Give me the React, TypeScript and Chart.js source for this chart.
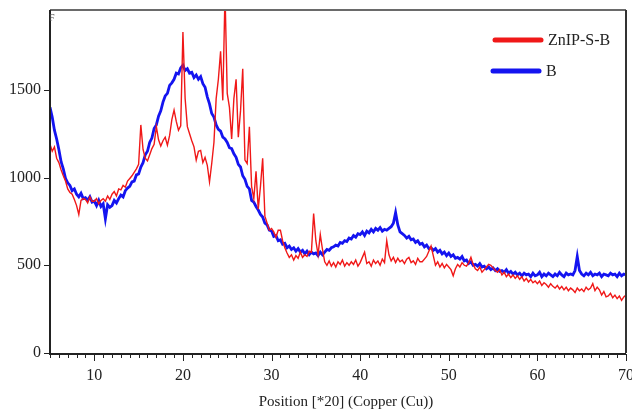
import { useEffect, useRef } from 'react';
import { Chart, registerables } from 'chart.js';

Chart.register(...registerables);

// 2θ positions: 5° to 70° every 0.25°
const X_START = 5;
const X_STEP = 0.25;
const POINT_COUNT = 261;
const positions: number[] = Array.from({ length: POINT_COUNT }, (_, i) => X_START + i * X_STEP);

const seriesLabels = ['ZnIP-S-B', 'B'];
const seriesColors = ['#f01818', '#1414f0'];

// ZnIP-S-B intensities (4 points per degree)
const znipValues: number[] = [
  1190, 1150, 1175, 1110, // 5
  1085, 1045, 1010, 980, // 6
  935, 915, 905, 875, // 7
  840, 790, 870, 880, // 8
  875, 855, 890, 865, // 9
  865, 880, 850, 870, // 10
  880, 865, 895, 875, // 11
  905, 920, 895, 935, // 12
  930, 955, 945, 980, // 13
  995, 1010, 1030, 1050, // 14
  1075, 1300, 1160, 1110, // 15
  1095, 1130, 1165, 1190, // 16
  1290, 1215, 1180, 1210, // 17
  1230, 1185, 1240, 1330, // 18
  1385, 1320, 1270, 1295, // 19
  1830, 1450, 1290, 1250, // 20
  1210, 1175, 1100, 1150, // 21
  1155, 1085, 1115, 1070, // 22
  975, 1080, 1200, 1450, // 23
  1560, 1720, 1440, 2050, // 24
  1480, 1400, 1220, 1450, // 25
  1560, 1230, 1380, 1620, // 26
  1100, 1080, 1290, 950, // 27
  880, 1035, 820, 950, // 28
  1110, 780, 740, 700, // 29
  710, 690, 660, 700, // 30
  700, 640, 600, 570, // 31
  545, 560, 530, 555, // 32
  540, 575, 545, 560, // 33
  550, 580, 575, 795, // 34
  640, 560, 675, 590, // 35
  520, 500, 525, 495, // 36
  515, 490, 520, 505, // 37
  530, 495, 515, 500, // 38
  520, 505, 530, 495, // 39
  515, 545, 575, 510, // 40
  520, 495, 530, 510, // 41
  525, 500, 535, 515, // 42
  640, 560, 525, 545, // 43
  515, 540, 520, 530, // 44
  510, 535, 545, 515, // 45
  525, 505, 540, 520, // 46
  520, 535, 550, 580, // 47
  610, 555, 500, 520, // 48
  490, 510, 485, 505, // 49
  490, 475, 440, 480, // 50
  505, 490, 515, 500, // 51
  495, 515, 545, 505, // 52
  480, 470, 490, 460, // 53
  475, 490, 505, 500, // 54
  485, 470, 460, 475, // 55
  445, 460, 435, 450, // 56
  430, 445, 425, 440, // 57
  420, 435, 410, 425, // 58
  405, 420, 400, 410, // 59
  395, 410, 385, 400, // 60
  390, 375, 395, 380, // 61
  370, 385, 365, 380, // 62
  360, 375, 355, 370, // 63
  360, 345, 370, 355, // 64
  365, 350, 375, 360, // 65
  370, 395, 355, 375, // 66
  360, 330, 350, 320, // 67
  325, 340, 315, 330, // 68
  310, 325, 300, 320, // 69
  330, // 70
];

// B intensities
const bValues: number[] = [
  1400, 1345, 1270, 1220, // 5
  1160, 1090, 1050, 995, // 6
  970, 955, 925, 935, // 7
  905, 890, 910, 880, // 8
  885, 870, 890, 860, // 9
  865, 840, 870, 835, // 10
  850, 765, 845, 830, // 11
  840, 870, 855, 880, // 12
  900, 890, 925, 940, // 13
  950, 975, 980, 1015, // 14
  1020, 1060, 1085, 1130, // 15
  1150, 1200, 1225, 1280, // 16
  1300, 1350, 1380, 1430, // 17
  1465, 1480, 1525, 1540, // 18
  1560, 1595, 1590, 1625, // 19
  1640, 1610, 1620, 1595, // 20
  1600, 1570, 1585, 1560, // 21
  1575, 1535, 1515, 1460, // 22
  1420, 1365, 1345, 1300, // 23
  1275, 1265, 1230, 1220, // 24
  1200, 1170, 1165, 1135, // 25
  1115, 1075, 1060, 1010, // 26
  990, 950, 935, 870, // 27
  860, 835, 815, 790, // 28
  775, 740, 730, 700, // 29
  695, 665, 670, 640, // 30
  645, 620, 625, 600, // 31
  610, 590, 600, 580, // 32
  595, 575, 585, 565, // 33
  580, 560, 575, 565, // 34
  570, 555, 575, 560, // 35
  575, 590, 585, 600, // 36
  605, 615, 610, 630, // 37
  625, 640, 635, 655, // 38
  650, 670, 660, 680, // 39
  675, 690, 670, 695, // 40
  685, 705, 690, 710, // 41
  700, 715, 695, 705, // 42
  700, 710, 720, 740, // 43
  800, 730, 690, 680, // 44
  670, 655, 665, 645, // 45
  650, 630, 640, 620, // 46
  625, 605, 615, 595, // 47
  600, 585, 595, 575, // 48
  585, 565, 575, 555, // 49
  570, 550, 560, 540, // 50
  545, 535, 550, 525, // 51
  530, 510, 520, 500, // 52
  505, 495, 510, 490, // 53
  495, 480, 490, 475, // 54
  485, 470, 480, 465, // 55
  470, 460, 475, 455, // 56
  465, 450, 460, 445, // 57
  455, 440, 455, 445, // 58
  450, 435, 455, 440, // 59
  445, 460, 435, 450, // 60
  440, 455, 445, 435, // 61
  450, 440, 460, 445, // 62
  435, 455, 445, 450, // 63
  445, 470, 550, 470, // 64
  450, 440, 455, 445, // 65
  460, 440, 450, 445, // 66
  455, 435, 450, 445, // 67
  440, 455, 445, 450, // 68
  435, 455, 440, 450, // 69
  445, // 70
];

const xTicks = [10, 20, 30, 40, 50, 60, 70];
const yTicks = [0, 500, 1000, 1500];
const X_MIN = 5;
const X_MAX = 70;
const Y_MIN = 0;
const Y_MAX = 1955;
const xTitle = 'Position [*20] (Copper (Cu))';

const SERIF = '"Liberation Serif", "Times New Roman", serif';

const framePlugin = {
  id: 'xrdFrame',
  afterDraw(chart: any) {
    const { ctx, chartArea } = chart;
    const { left, right, top, bottom } = chartArea;
    const xs = chart.scales.x;
    const ys = chart.scales.y;
    ctx.save();
    // frame
    ctx.lineWidth = 2;
    ctx.strokeStyle = '#6a6a6a';
    ctx.beginPath();
    ctx.moveTo(left, top);
    ctx.lineTo(right, top);
    ctx.stroke();
    ctx.strokeStyle = '#333';
    ctx.beginPath();
    ctx.moveTo(right, top);
    ctx.lineTo(right, bottom);
    ctx.stroke();
    ctx.strokeStyle = '#222';
    ctx.beginPath();
    ctx.moveTo(left, top);
    ctx.lineTo(left, bottom + 1);
    ctx.lineTo(right, bottom + 1);
    ctx.stroke();
    // x ticks (minor every degree, major at labels)
    ctx.lineWidth = 1;
    ctx.strokeStyle = '#222';
    for (let v = X_MIN; v <= X_MAX; v++) {
      const px = Math.round(xs.getPixelForValue(v)) + 0.5;
      const len = xTicks.includes(v) ? 7 : 4;
      ctx.beginPath();
      ctx.moveTo(px, bottom + 1);
      ctx.lineTo(px, bottom + 1 + len);
      ctx.stroke();
    }
    // y ticks
    for (const v of yTicks) {
      const py = Math.round(ys.getPixelForValue(v)) + 0.5;
      ctx.beginPath();
      ctx.moveTo(left - 6, py);
      ctx.lineTo(left, py);
      ctx.stroke();
    }
    // small mark at top of y axis
    ctx.fillStyle = '#444';
    ctx.font = `10px ${SERIF}`;
    ctx.textBaseline = 'top';
    ctx.textAlign = 'left';
    ctx.fillText('F', left - 1, top + 3);
    // x axis title
    ctx.fillStyle = '#222';
    ctx.font = `15px ${SERIF}`;
    ctx.textAlign = 'center';
    ctx.textBaseline = 'middle';
    ctx.fillText(xTitle, (left + right) / 2 + 8, 402);
    // legend
    const legendY = [40, 71];
    chart.data.datasets.forEach((ds: any, i: number) => {
      const y = legendY[i];
      ctx.lineCap = 'round';
      ctx.lineWidth = 5;
      ctx.strokeStyle = ds.borderColor;
      ctx.beginPath();
      ctx.moveTo(495 - i * 2, y);
      ctx.lineTo(541 - i * 2, y);
      ctx.stroke();
      ctx.fillStyle = '#222';
      ctx.font = `16px ${SERIF}`;
      ctx.textAlign = 'left';
      ctx.textBaseline = 'middle';
      ctx.fillText(ds.label, 548 - i * 2, y + 1);
    });
    ctx.restore();
  },
};

export default function App() {
  const canvasRef = useRef<HTMLCanvasElement | null>(null);

  useEffect(() => {
    if (!canvasRef.current) return;
    const makeData = (vals: number[]) => positions.map((x, i) => ({ x, y: vals[i] }));
    const chart = new Chart(canvasRef.current, {
      type: 'line',
      data: {
        datasets: [
          {
            label: seriesLabels[0],
            data: makeData(znipValues),
            borderColor: seriesColors[0],
            borderWidth: 1.4,
            pointRadius: 0,
            tension: 0,
            fill: false,
          },
          {
            label: seriesLabels[1],
            data: makeData(bValues),
            borderColor: seriesColors[1],
            borderWidth: 2.8,
            pointRadius: 0,
            tension: 0,
            fill: false,
          },
        ],
      },
      options: {
        responsive: false,
        animation: false,
        devicePixelRatio: 1,
        layout: { padding: { left: 0, right: 6, top: 10, bottom: 0 } },
        plugins: {
          legend: { display: false },
          tooltip: { enabled: false },
        },
        scales: {
          x: {
            type: 'linear',
            min: X_MIN,
            max: X_MAX,
            afterBuildTicks: (s: any) => {
              s.ticks = xTicks.map((v) => ({ value: v }));
            },
            afterFit: (s: any) => {
              s.height = 59;
              s.paddingLeft = 0;
              s.paddingRight = 0;
            },
            grid: { display: false, drawTicks: false },
            border: { display: false },
            ticks: {
              padding: 13,
              color: '#222',
              font: { family: SERIF, size: 16 },
              maxRotation: 0,
              autoSkip: false,
              callback: (v: any) => String(v),
            },
          },
          y: {
            type: 'linear',
            min: Y_MIN,
            max: Y_MAX,
            afterBuildTicks: (s: any) => {
              s.ticks = yTicks.map((v) => ({ value: v }));
            },
            afterFit: (s: any) => {
              s.width = 50;
              s.paddingTop = 0;
              s.paddingBottom = 0;
            },
            grid: { display: false, drawTicks: false },
            border: { display: false },
            ticks: {
              padding: 9,
              color: '#222',
              font: { family: SERIF, size: 16 },
              callback: (v: any) => String(v),
            },
          },
        },
      },
      plugins: [framePlugin],
    });
    return () => chart.destroy();
  }, []);

  return (
    <div style={{ position: 'fixed', left: 0, top: 0, width: 632, height: 412, background: '#fff' }}>
      <canvas ref={canvasRef} width={632} height={412} style={{ width: 632, height: 412, display: 'block' }} />
    </div>
  );
}
